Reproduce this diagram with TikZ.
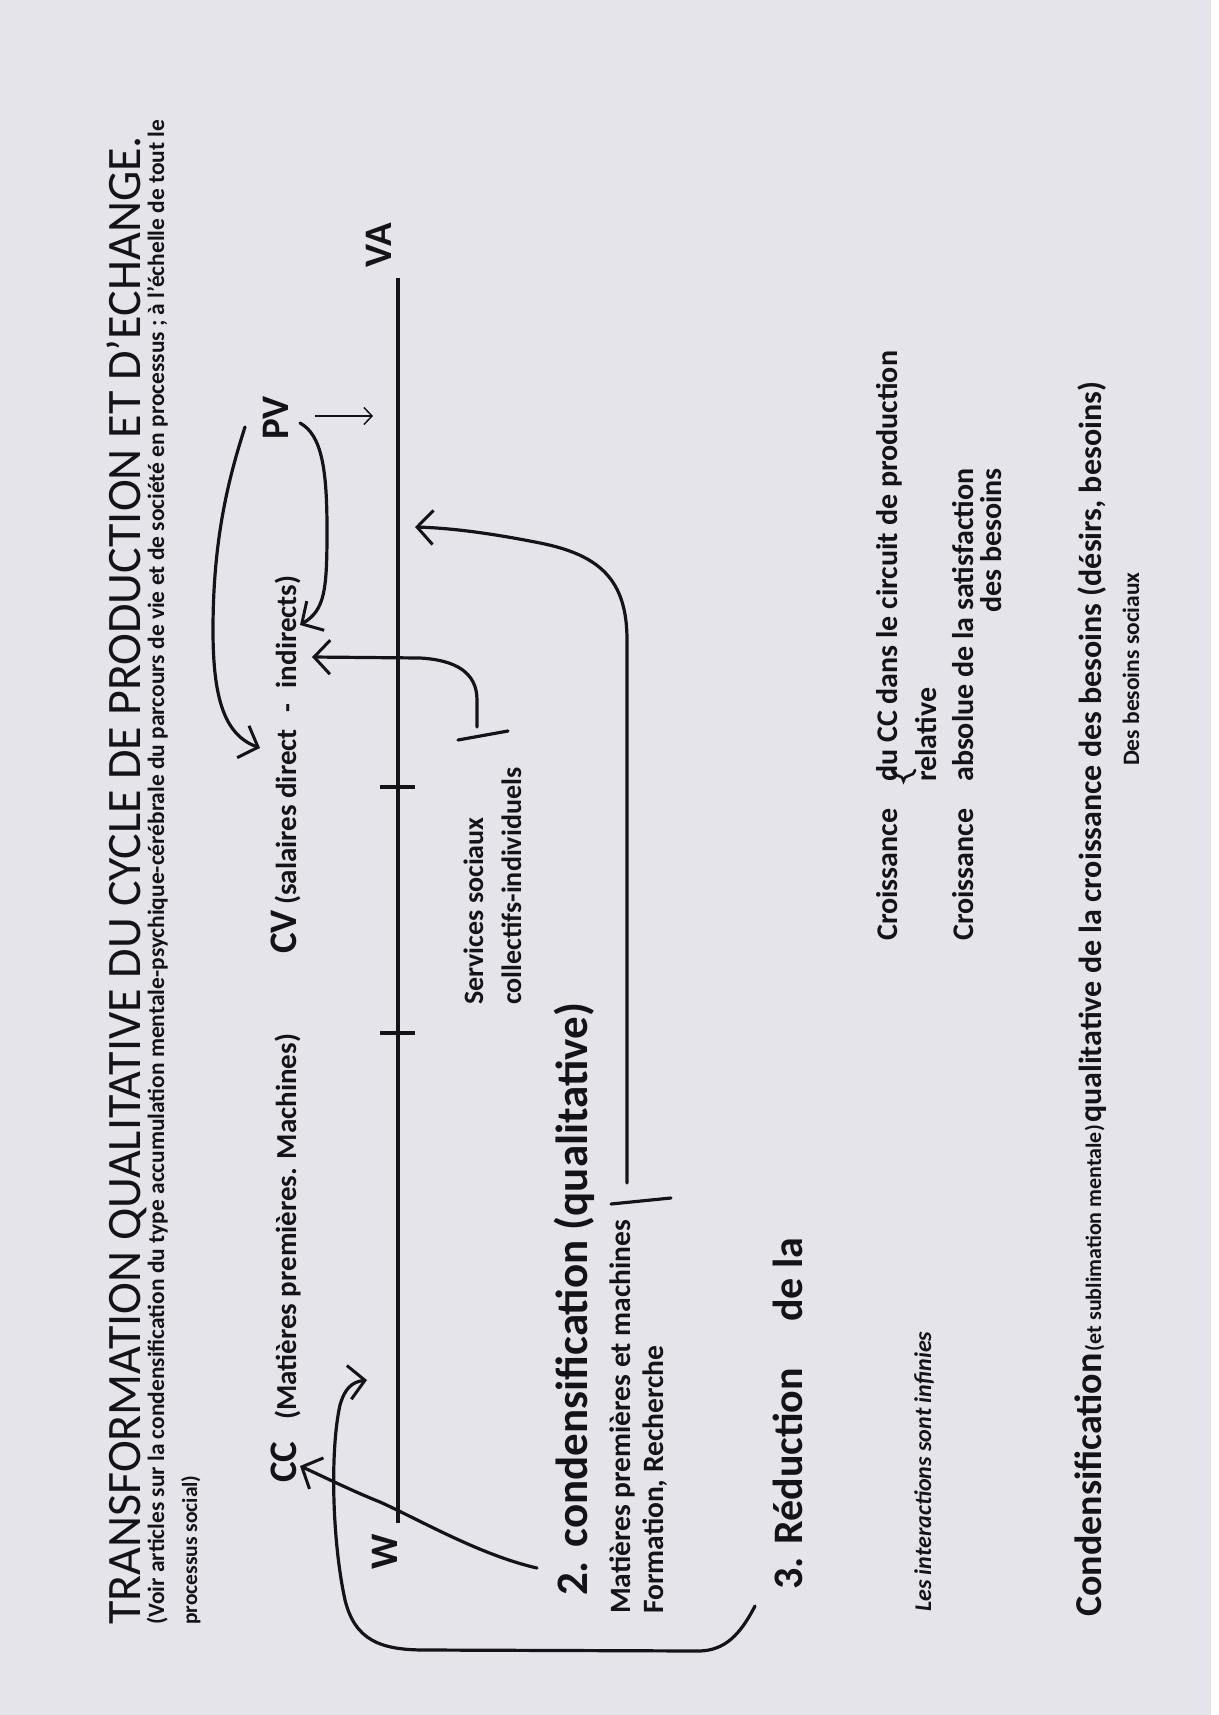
\documentclass[tikz,border=0pt]{standalone}
\usepackage{fontspec}
\setmainfont{Carlito}
\usetikzlibrary{arrows.meta,decorations.pathreplacing}
\definecolor{paper}{HTML}{E4E4EA}
\definecolor{ink}{HTML}{141418}
\begin{document}
\begin{tikzpicture}[x=1pt,y=-1pt,
  txt/.style={rotate=90,anchor=base west,inner sep=0pt,text=ink},
  hand/.style={draw=ink,line width=3.2pt,line cap=round,line join=round},
  barb/.style={-{Straight Barb[length=16pt,width=34pt,line width=3pt]}},
  axis/.style={draw=ink,line width=3.2pt},
]
\fill[paper] (0,0) rectangle (1218,1715);
\fill[white] (1211,0) rectangle (1218,1715);
\useasboundingbox (0,0) rectangle (1218,1715);

% title block
\node[txt,font=\fontsize{48}{56}\selectfont] (title) at (140,1625) {TRANSFORMATION QUALITATIVE DU CYCLE DE PRODUCTION ET D’ECHANGE.};
\node[txt] (sub1) at (164,1625) {\resizebox{1505pt}{!}{\bfseries\fontsize{21.5}{25}\selectfont (Voir articles sur la condensification du type accumulation mentale-psychique-cérébrale du parcours de vie et de société en processus ; à l’échelle de tout le}};
\node[txt,font=\bfseries\fontsize{21.5}{25}\selectfont] (sub2) at (197,1625) {processus social)};

% top labels
\node[txt,font=\bfseries\fontsize{39}{45}\selectfont] (CC) at (296,1483) {CC};
\node[txt,font=\bfseries\fontsize{29}{34}\selectfont] (CCt) at (296,1420) {(Matières premières. Machines)};
\node[txt,font=\bfseries\fontsize{39}{45}\selectfont] (CV) at (296,954) {CV};
\node[txt,font=\bfseries\fontsize{29}{34}\selectfont] (CVt) at (296,905) {(salaires direct\hspace{17pt}-\hspace{15pt}indirects)};
\node[txt,font=\bfseries\fontsize{39}{45}\selectfont] (PV) at (288,440) {PV};
\node[txt,font=\bfseries\fontsize{39}{45}\selectfont] (VA) at (391,268) {VA};
\node[txt,font=\bfseries\fontsize{39}{45}\selectfont] (W) at (397,1570) {W};

% main axis
\coordinate (L0) at (398,1523);
\coordinate (L1) at (398,278);
\draw[axis] (L0) -- (L1);
\coordinate (t1a) at (380,787); \coordinate (t1b) at (415,787);
\coordinate (t2a) at (380,1033); \coordinate (t2b) at (415,1033);
\draw[axis] (t1a) -- (t1b);
\draw[axis] (t2a) -- (t2b);

% PV -> axis
\coordinate (pvA) at (315,416); \coordinate (pvB) at (373,416);
\draw[draw=ink,line width=1.5pt,-{Straight Barb[length=8pt,width=17pt,line width=1.5pt]}] (pvA) -- (pvB);

% curve A : PV -> CV (direct)
\coordinate (aS) at (245,427); \coordinate (aE) at (260,748);
\draw[hand,barb] (aS) .. controls (228,480) and (213,540) .. (213,630) .. controls (213,700) and (225,735) .. (aE);
% curve B : PV -> indirects
\coordinate (bS) at (300,423); \coordinate (bE) at (300,625);
\draw[hand,barb] (bS) .. controls (322,435) and (327,470) .. (327,530) .. controls (327,590) and (325,610) .. (bE);

% services
\node[txt,font=\bfseries\fontsize{28}{33}\selectfont] (serv1) at (483,1005) {Services sociaux};
\node[txt,font=\bfseries\fontsize{28}{33}\selectfont] (serv2) at (521,1005) {collectifs-individuels};
\coordinate (cS) at (477,727); \coordinate (cE) at (312,657);
\draw[hand,barb] (cS) -- (477,700) .. controls (477,672) and (455,660) .. (420,658) -- (cE);
\coordinate (cbA) at (458,740); \coordinate (cbB) at (508,731);
\draw[hand] (cbA) -- (cbB);

% group 2
\node[txt,font=\bfseries\fontsize{45}{52}\selectfont] (two) at (587,1596) {2. condensification (qualitative)};
\node[txt,font=\bfseries\fontsize{29.5}{35}\selectfont] (mat) at (630,1614) {Matières premières et machines};
\node[txt,font=\bfseries\fontsize{29.5}{35}\selectfont] (form) at (663,1614) {Formation, Recherche};
\coordinate (dS) at (627,1183); \coordinate (dE) at (415,527);
\draw[hand,barb] (dS) -- (627,640) .. controls (627,580) and (600,555) .. (540,543) .. controls (490,533) and (450,528) .. (dE);
\coordinate (dbA) at (611,1204); \coordinate (dbB) at (671,1198);
\draw[hand] (dbA) -- (dbB);

% curve F : 2. -> CC
\coordinate (fS) at (537,1568); \coordinate (fE) at (300,1466);
\draw[hand,barb] (fS) .. controls (480,1555) and (420,1520) .. (380,1502) .. controls (350,1490) and (320,1475) .. (fE);

% group 3
\node[txt,font=\bfseries\fontsize{42}{50}\selectfont] (three) at (802,1590) {3. Réduction};
\node[txt,font=\bfseries\fontsize{42}{50}\selectfont] (dela) at (802,1322) {de la};
\coordinate (eS) at (755,1606); \coordinate (eE) at (367,1380);
\draw[hand,barb] (eS) .. controls (740,1635) and (725,1650) .. (700,1651) -- (425,1650) .. controls (380,1650) and (355,1640) .. (345,1600) .. controls (332,1540) and (330,1450) .. (340,1405) .. controls (345,1388) and (352,1382) .. (eE);

\node[txt,font=\bfseries\itshape\fontsize{24}{29}\selectfont] (inter) at (931,1612) {Les interactions sont infinies};

% croissance block
\node[txt,font=\bfseries\fontsize{30}{35}\selectfont] (cr1) at (897,941) {Croissance};
\node[txt,font=\bfseries\fontsize{30}{35}\selectfont] (cr1b) at (897,782) {du CC dans le circuit de production};
\coordinate (brA) at (915,770); \coordinate (brB) at (892,770);
\draw[draw=ink,line width=2.6pt,line cap=round,decorate,decoration={brace,amplitude=11pt}] (brA) -- (brB);
\node[txt,font=\bfseries\fontsize{30}{35}\selectfont] (rel) at (936,782) {relative};
\node[txt,font=\bfseries\fontsize{30}{35}\selectfont] (cr2) at (973,941) {Croissance};
\node[txt,font=\bfseries\fontsize{30}{35}\selectfont] (cr2b) at (973,782) {absolue de la satisfaction};
\node[txt,font=\bfseries\fontsize{30}{35}\selectfont] (desb) at (1001,613) {des besoins};

% bottom line
\node[txt,font=\bfseries] (cond) at (1101,1617) {{\fontsize{38}{46}\selectfont Condensification} {\fontsize{22}{26}\selectfont (et sublimation mentale)} {\fontsize{32}{38}\selectfont qualitative de la croissance des besoins (désirs, besoins)}};
\node[txt,font=\bfseries\fontsize{23.5}{28}\selectfont] (dbs) at (1139,766) {Des besoins sociaux};
\end{tikzpicture}
\end{document}
